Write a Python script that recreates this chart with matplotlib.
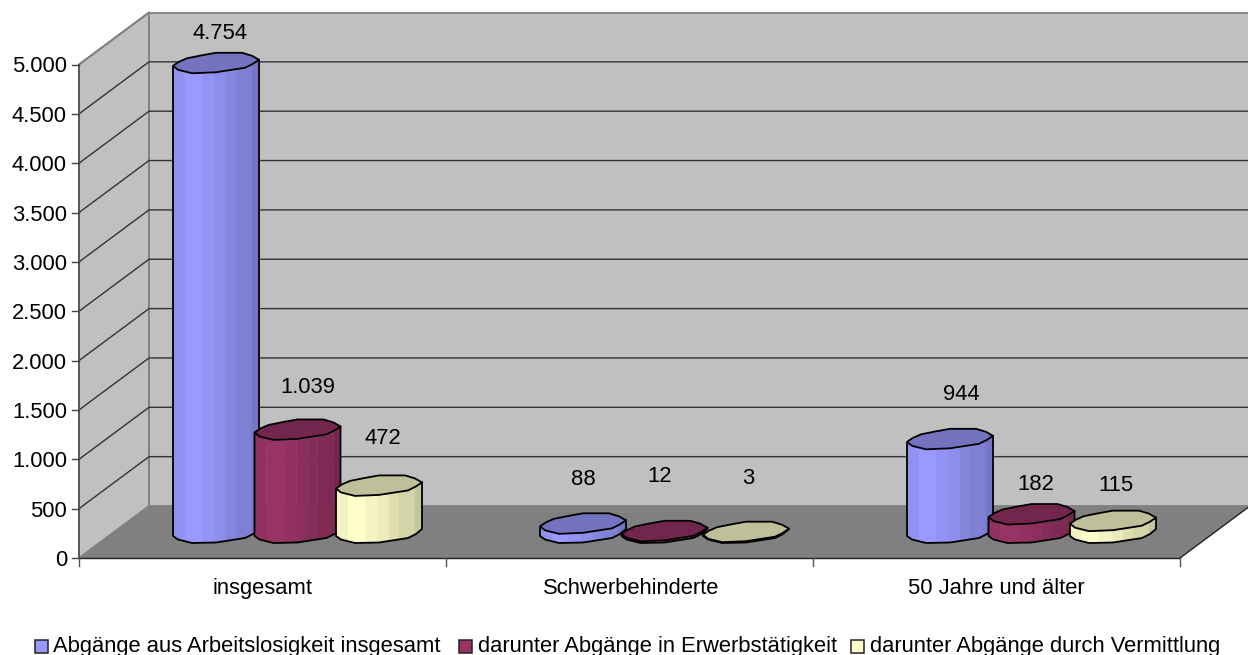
# -*- coding: utf-8 -*-
import numpy as np
import matplotlib
matplotlib.use("Agg")
import matplotlib.pyplot as plt
from matplotlib.patches import Polygon, Rectangle

plt.rcParams['font.family'] = ['Liberation Sans', 'DejaVu Sans']

### Daten ###
categories = ["insgesamt", "Schwerbehinderte", "50 Jahre und älter"]
series_names = ["Abgänge aus Arbeitslosigkeit insgesamt",
                "darunter Abgänge in Erwerbstätigkeit",
                "darunter Abgänge durch Vermittlung"]
total = [4754, 88, 944]
employed = [1039, 12, 182]
placed = [472, 3, 115]
y_ticks = [0, 500, 1000, 1500, 2000, 2500, 3000, 3500, 4000, 4500, 5000]

### Aussehen ###
colors = ["#9999ff", "#993366", "#ffffcc"]
# Versatz der Beschriftung zur Saeule (Pixel), wie im Original von Hand verschoben
label_dx = [[4, 10, 4], [0, -5, 2], [11, 4, 3]]
label_dy = [[-32, -44, -49], [-46, -57, -56], [-47, -32, -38]]
category_dx = [0, 1.5, 0]
legend_box_x = [35, 459, 851]
legend_text_x = [53, 478, 870]

FRONT_L, FRONT_R = 79, 1180
FRONT_0, FRONT_MAX = 558, 64.5
DX, DY = 70, 52   # Tiefe des 3D-Rahmens
FONT = 15.8

# Umriss der Saeulenflaeche relativ zur Mitte (grobes Vieleck wie im Original)
disc_x = [-43, -37, -29, -14, 0, 26, 36, 43, 37, 29, 0, -24, -38]
disc_y = [3, -1, -4.5, -7.5, -10, -10, -7, -3, 1, 5, 9.5, 10.5, 7]
# vordere Kante, von links nach rechts
front_x = [-43, -38, -24, 0, 29, 37, 43]
front_y = [4, 7.5, 11, 10.5, 6, 2, -3]
# Lichtstreifen auf dem Mantel
strip_x = [-43, -31, -14, -1, 10, 20, 36, 43]
strip_f = [0.95, 1.0, 0.96, 0.92, 0.87, 0.83, 0.77]


def val_y(v):
    return FRONT_0 - (FRONT_0 - FRONT_MAX) * v / max(y_ticks)


def fmt(v):
    return f"{v:,}".replace(",", ".")


def shade(hex_color, f):
    return tuple(c * f for c in matplotlib.colors.to_rgb(hex_color))


def draw_cylinder(ax, cx, base_y, value, color, z):
    h = FRONT_0 - val_y(value)
    for i, f in enumerate(strip_f):
        x0, x1 = strip_x[i], strip_x[i + 1]
        xs = [x for x in front_x if x0 < x < x1]
        xx = np.array([x0] + xs + [x1], dtype=float)
        yy = np.interp(xx, front_x, front_y)
        bottom = np.column_stack([cx + xx, base_y + yy])
        top = np.column_stack([cx + xx[::-1], base_y + yy[::-1] - h])
        ax.add_patch(Polygon(np.vstack([bottom, top]), closed=True,
                             facecolor=shade(color, f), edgecolor=shade(color, f),
                             lw=0.3, zorder=z))
    fx = cx + np.array(front_x)
    fy = base_y + np.array(front_y)
    ax.plot(np.r_[fx[0], fx, fx[-1]], np.r_[fy[0] - h, fy, fy[-1] - h],
            color="black", lw=1.3, zorder=z + 0.1, solid_joinstyle="round")
    ax.add_patch(Polygon(np.column_stack([cx + np.array(disc_x), base_y - h + np.array(disc_y)]),
                         closed=True, facecolor=shade(color, 0.75), edgecolor="black",
                         lw=1.3, joinstyle="round", zorder=z + 0.2))


fig = plt.figure(figsize=(12.48, 6.55), dpi=100)
ax = fig.add_axes([0, 0, 1, 1])
ax.set_xlim(0, 1248)
ax.set_ylim(655, 0)
ax.axis("off")

### Rahmen ###
top = val_y(max(y_ticks))
ax.add_patch(Polygon([(FRONT_L, top), (FRONT_L + DX, top - DY),
                      (FRONT_L + DX, FRONT_0 - DY), (FRONT_L, FRONT_0)],
                     facecolor="#c0c0c0", edgecolor="#808080", lw=1.3, zorder=1))
ax.add_patch(Rectangle((FRONT_L + DX, top - DY), 1248 - FRONT_L - DX + 2, FRONT_0 - top,
                       facecolor="#c0c0c0", edgecolor="#808080", lw=1.3, zorder=1))
ax.add_patch(Polygon([(FRONT_L, FRONT_0), (FRONT_L + DX, FRONT_0 - DY),
                      (FRONT_R + DX, FRONT_0 - DY), (FRONT_R, FRONT_0)],
                     facecolor="#808080", edgecolor="none", zorder=1.5))

for v in y_ticks[1:-1]:
    y = val_y(v)
    ax.plot([FRONT_L, FRONT_L + DX, 1250], [y, y - DY, y - DY],
            color="#333333", lw=1.0, zorder=2)
ax.plot([FRONT_L, FRONT_L + DX], [top, top - DY], color="#808080", lw=1.3, zorder=2)
ax.plot([FRONT_R, FRONT_R + DX], [FRONT_0, FRONT_0 - DY], color="#222222", lw=1.0, zorder=2)
ax.plot([FRONT_L, FRONT_L], [top, FRONT_0], color="#555555", lw=1.3, zorder=2)
ax.plot([FRONT_L, FRONT_R], [FRONT_0, FRONT_0], color="#222222", lw=1.0, zorder=2)

for v in y_ticks:
    y = val_y(v)
    ax.plot([FRONT_L - 7, FRONT_L], [y, y], color="#444444", lw=1.0, zorder=2)
    ax.text(FRONT_L - 12, y, fmt(v), ha="right", va="center_baseline",
            fontsize=FONT, color="black")

group_w = (FRONT_R - FRONT_L) / len(categories)
for i, name in enumerate(categories):
    ax.plot([FRONT_L + i * group_w] * 2, [FRONT_0, FRONT_0 + 8], color="#555555", lw=1.0, zorder=2)
    ax.text(FRONT_L + (i + 0.5) * group_w + category_dx[i], 586, name, ha="center",
            va="center_baseline", fontsize=FONT, color="black")
ax.plot([FRONT_R, FRONT_R], [FRONT_0, FRONT_0 + 8], color="#555555", lw=1.0, zorder=2)

### Saeulen ###
base_y = FRONT_0 - DY / 2
series = [total, employed, placed]
for i in range(len(categories)):
    center = FRONT_L + (i + 0.5) * group_w + DX / 2
    for j, values in enumerate(series):
        cx = center + (j - 1) * 81.5
        draw_cylinder(ax, cx, base_y, values[i], colors[j], 3 + i + j * 0.3)
        ax.text(cx + label_dx[i][j], val_y(values[i]) - (FRONT_0 - base_y) + label_dy[i][j],
                fmt(values[i]), ha="center", va="center_baseline",
                fontsize=FONT, color="black", zorder=10)

### Legende ###
for bx, tx, name, c in zip(legend_box_x, legend_text_x, series_names, colors):
    ax.add_patch(Rectangle((bx, 640), 13, 13, facecolor=c, edgecolor="#222222", lw=1.1, zorder=5))
    ax.text(tx, 652, name, ha="left", va="baseline", fontsize=FONT, color="black")

fig.savefig("out.png", dpi=100)
